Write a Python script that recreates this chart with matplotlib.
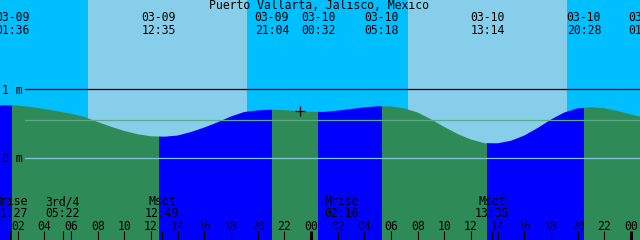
import matplotlib
matplotlib.use('Agg')
import matplotlib.pyplot as plt
import matplotlib.transforms as mtransforms
import numpy as np

plt.rcParams['font.family'] = ['DejaVu Sans Mono']
fontsize = 8.3

station = 'Puerto Vallarta, Jalisco, Mexico'

# hours counted from 03-09 00:00, tide height in metres
hours = np.arange(0, 50)
height_m = [0.761, 0.768, 0.765, 0.743, 0.714, 0.681, 0.646, 0.599, 0.526, 0.458,
            0.396, 0.348, 0.319, 0.313, 0.330, 0.381, 0.446, 0.522, 0.606, 0.671,
            0.694, 0.704, 0.697, 0.686, 0.674, 0.672, 0.691, 0.714, 0.738, 0.754,
            0.752, 0.722, 0.664, 0.565, 0.454, 0.352, 0.272, 0.219, 0.217, 0.254,
            0.330, 0.439, 0.562, 0.664, 0.723, 0.741, 0.725, 0.686, 0.635, 0.591]

tide_times = [1.600, 12.583, 21.067, 24.533, 29.300, 37.233, 44.467, 49.050]
tide_dates = ['03-09', '03-09', '03-09', '03-10', '03-10', '03-10', '03-10', '03-11']
tide_clock = ['01:36', '12:35', '21:04', '00:32', '05:18', '13:14', '20:28', '01:03']
tide_kind = ['H', 'L', 'H', 'L', 'H', 'L', 'H', 'L']

sunrise = [7.267, 31.267]
sunset = [19.183, 43.183]

moon_times = [1.450, 5.367, 12.817, 26.267, 37.583]
moon_names = ['Mrise', '3rd/4', 'Mset', 'Mrise', 'Mset']
moon_clock = ['01:27', '05:22', '12:49', '02:16', '13:35']

msl_m = 0.55
now_time = 23.17
now_height = 0.686

t_start = 0.675
t_span = 48.0

night_col = '#00bfff'
day_col = '#87ceeb'
flood_col = '#0000ff'
ebb_col = '#2e8b57'

fig = plt.figure(figsize=(6.4, 2.4), dpi=100)
ax = fig.add_axes([0, 0, 1, 1])
ax.set_axis_off()
ax.set_xlim(t_start, t_start + t_span)
# 0 m sits at pixel row 158.3, 1 m spans 69 px
ax.set_ylim((158.3 - 240) / 69, 158.3 / 69)

# sky
ax.axvspan(-5, 60, color=night_col, lw=0, zorder=0)
for a, b in zip(sunrise, sunset):
    ax.axvspan(a, b, color=day_col, lw=0, zorder=0)

# water, coloured flood / ebb between tide events
water = ax.fill_between(hours, height_m, -3, color='none', lw=0)
wpath = water.get_paths()[0]
edges = [-5] + tide_times + [60]
for i in range(len(edges) - 1):
    if i < len(tide_kind):
        col = flood_col if tide_kind[i] == 'H' else ebb_col
    else:
        col = flood_col if tide_kind[-1] == 'L' else ebb_col
    span = ax.axvspan(edges[i], edges[i + 1], color=col, lw=0, zorder=1)
    span.set_clip_path(wpath, ax.transData)

# reference lines
ax.axhline(1.0, xmin=25 / 640, color='black', lw=0.9, zorder=2)
ax.axhline(msl_m, xmin=25 / 640, color='#5aaa8c', lw=0.9, zorder=2)
ax.axhline(0.0, xmin=25 / 640, color='#86c4dc', lw=0.9, zorder=2)
ax.text(2 / 640, 1 - 93.5 / 240, '1 m', transform=ax.transAxes,
        fontsize=fontsize, va='baseline', ha='left', zorder=3)
ax.text(2 / 640, 1 - 161.8 / 240, '0 m', transform=ax.transAxes,
        fontsize=fontsize, va='baseline', ha='left', zorder=3)

ax.plot([now_time], [now_height], marker='+', color='black', ms=7, mew=0.9, zorder=3)

blend = mtransforms.blended_transform_factory(ax.transData, ax.transAxes)


def row(ypx):
    return 1 - ypx / 240


ax.text(t_start + 319 / 640 * t_span, row(9.2), station, transform=blend,
        fontsize=fontsize, ha='center', va='baseline', zorder=3)

for t, d, c in zip(tide_times, tide_dates, tide_clock):
    ax.text(t, row(21.0), d, transform=blend, fontsize=fontsize, ha='center', va='baseline', zorder=3)
    ax.text(t, row(34.3), c, transform=blend, fontsize=fontsize, ha='center', va='baseline', zorder=3)

for t, n, c in zip(moon_times, moon_names, moon_clock):
    ax.text(t, row(205.2), n, transform=blend, fontsize=fontsize, ha='center', va='baseline', zorder=3)
    ax.text(t, row(216.8), c, transform=blend, fontsize=fontsize, ha='center', va='baseline', zorder=3)
    ax.vlines(t, row(240), row(231), transform=blend, color='black', lw=0.8, zorder=3)

for h in range(2, 50, 2):
    ax.text(h, row(229.5), '%02d' % (h % 24), transform=blend, fontsize=fontsize,
            ha='center', va='baseline', zorder=3)
    lw = 2.2 if h % 24 == 0 else 0.8
    ax.vlines(h, row(240), row(231), transform=blend, color='black', lw=lw, zorder=3)

fig.savefig('out.png', dpi=100)
